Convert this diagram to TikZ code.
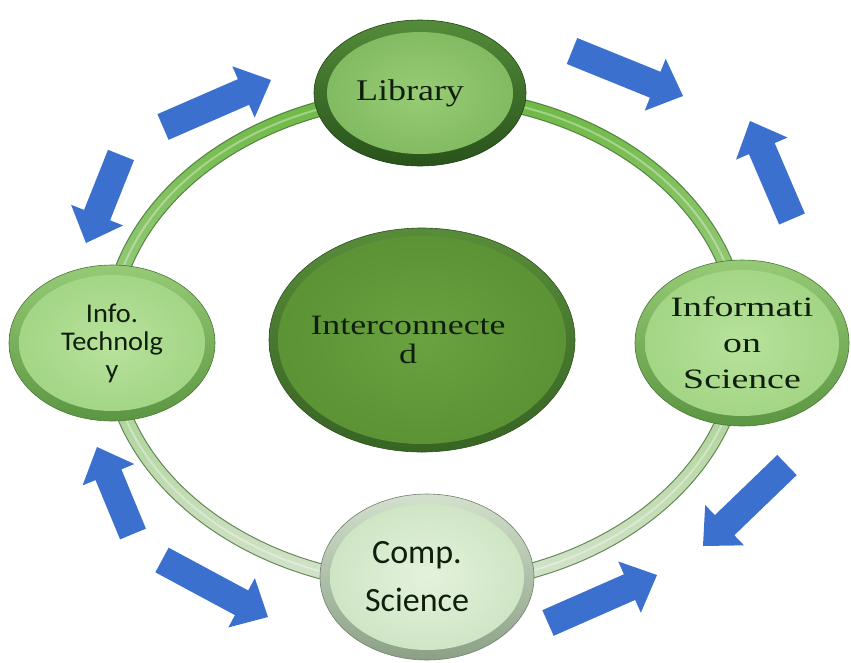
\documentclass[tikz,border=0pt]{standalone}
\usepackage{fontspec}
\setmainfont{Liberation Serif}
\newfontfamily\calibrifont{Carlito}
\usetikzlibrary{shapes.geometric,calc}
\definecolor{arrowblue}{RGB}{60,112,207}
\definecolor{textdark}{RGB}{16,30,14}
\definecolor{ringA}{RGB}{108,184,66}
\definecolor{ringB}{RGB}{214,228,206}
\definecolor{ringEdge}{RGB}{50,95,35}
\definecolor{libRimA}{RGB}{84,140,58}
\definecolor{libRimB}{RGB}{40,82,26}
\definecolor{libIn}{RGB}{152,204,118}
\definecolor{libOut}{RGB}{126,184,94}
\definecolor{cenRimA}{RGB}{88,140,58}
\definecolor{cenRimB}{RGB}{56,100,36}
\definecolor{cenIn}{RGB}{106,162,64}
\definecolor{cenOut}{RGB}{90,146,52}
\definecolor{lgRimA}{RGB}{150,202,118}
\definecolor{lgRimB}{RGB}{92,150,66}
\definecolor{lgIn}{RGB}{184,226,156}
\definecolor{lgOut}{RGB}{160,212,130}
\definecolor{csRimA}{RGB}{210,224,204}
\definecolor{csRimB}{RGB}{140,160,135}
\definecolor{csIn}{RGB}{228,242,220}
\definecolor{csOut}{RGB}{204,228,194}
\newcommand\hstretch[2]{\scalebox{#1}[1]{#2}}
\tikzset{
  bubble/.style={ellipse, inner sep=0pt, align=center, text=textdark},
  rimshade/.style 2 args={top color=#1, bottom color=#2, draw=#2!80!black, line width=0.6pt},
  core/.style n args={4}{path picture={\shade[inner color=#1, outer color=#2]
      (path picture bounding box.center) ellipse [x radius=#3, y radius=#4];}},
  blockarrow/.style={fill=arrowblue},
  ringline/.style={draw=ringEdge, draw opacity=0.7, line width=1pt},
}
\newcommand\blockarr[2]{%
  \path ($(#2)!30pt!(#1)$) coordinate (#1b);
  \fill[blockarrow] ($(#1)!14pt!90:(#2)$) -- ($(#1b)!14pt!90:(#2)$) -- ($(#1b)!28pt!90:(#2)$)
    -- (#2) -- ($(#1b)!28pt!-90:(#2)$) -- ($(#1b)!14pt!-90:(#2)$) -- ($(#1)!14pt!-90:(#2)$) -- cycle;}
\begin{document}
\begin{tikzpicture}[x=1pt,y=-1pt]
\useasboundingbox (0,0) rectangle (851,662);
% ring
\coordinate (rc) at (425,340);
\shade[even odd rule, shading angle=-40, top color=ringA, bottom color=ringB]
  (rc) ellipse [x radius=323.5pt, y radius=252.5pt]
  (rc) ellipse [x radius=308.5pt, y radius=237.5pt];
\draw[ringline] (rc) ellipse [x radius=323.5pt, y radius=252.5pt];
\draw[ringline] (rc) ellipse [x radius=308.5pt, y radius=237.5pt];
\draw[white, opacity=0.35, line width=2pt] (rc) ellipse [x radius=316pt, y radius=245pt];
% central
\node[bubble, minimum width=306pt, minimum height=224pt, rimshade={cenRimA}{cenRimB},
  core={cenIn}{cenOut}{144pt}{104pt}, font=\fontsize{28}{29}\selectfont] (cen) at (422,340)
  {\hspace*{-28pt}\hstretch{1.28}{Interconnecte}\\\hspace*{-28pt}\hstretch{1.28}{d}};
% outer nodes
\node[bubble, minimum width=212pt, minimum height=146pt, rimshade={libRimA}{libRimB},
  core={libIn}{libOut}{93pt}{61pt}, font=\fontsize{30}{36}\selectfont] (lib) at (420,93)
  {\hspace*{-20pt}\hstretch{1.2}{Library}};
\node[bubble, minimum width=214pt, minimum height=166pt, rimshade={lgRimA}{lgRimB},
  core={lgIn}{lgOut}{97pt}{73pt}, font=\fontsize{28}{36}\selectfont] (isci) at (742,343)
  {\hstretch{1.35}{Informati}\\\hstretch{1.35}{on}\\\hstretch{1.35}{Science}};
\node[bubble, minimum width=206pt, minimum height=156pt, rimshade={lgRimA}{lgRimB},
  core={lgIn}{lgOut}{93pt}{68pt}, font=\calibrifont\fontsize{27}{28}\selectfont] (itech) at (112,343)
  {\hstretch{1.05}{Info.}\\\hstretch{1.05}{Technolg}\\\hstretch{1.05}{y}};
\node[bubble, minimum width=214pt, minimum height=166pt, rimshade={csRimA}{csRimB},
  core={csIn}{csOut}{97pt}{73pt}, font=\calibrifont\fontsize{34}{48}\selectfont] (csci) at (427,577)
  {\hspace*{-20pt}Comp.\\\hspace*{-20pt}Science};
% arrows
\coordinate (a1t) at (163,127); \coordinate (a1h) at (271,80);
\coordinate (a2t) at (121,155); \coordinate (a2h) at (86,243);
\coordinate (a3t) at (572,51);  \coordinate (a3h) at (683,96);
\coordinate (a4t) at (792,219); \coordinate (a4h) at (750,121);
\coordinate (a5t) at (787,465); \coordinate (a5h) at (703,546);
\coordinate (a6t) at (548,623); \coordinate (a6h) at (657,575);
\coordinate (a7t) at (133,534); \coordinate (a7h) at (97,447);
\coordinate (a8t) at (162,560); \coordinate (a8h) at (268,617);
\blockarr{a1t}{a1h}
\blockarr{a2t}{a2h}
\blockarr{a3t}{a3h}
\blockarr{a4t}{a4h}
\blockarr{a5t}{a5h}
\blockarr{a6t}{a6h}
\blockarr{a7t}{a7h}
\blockarr{a8t}{a8h}
\end{tikzpicture}
\end{document}
